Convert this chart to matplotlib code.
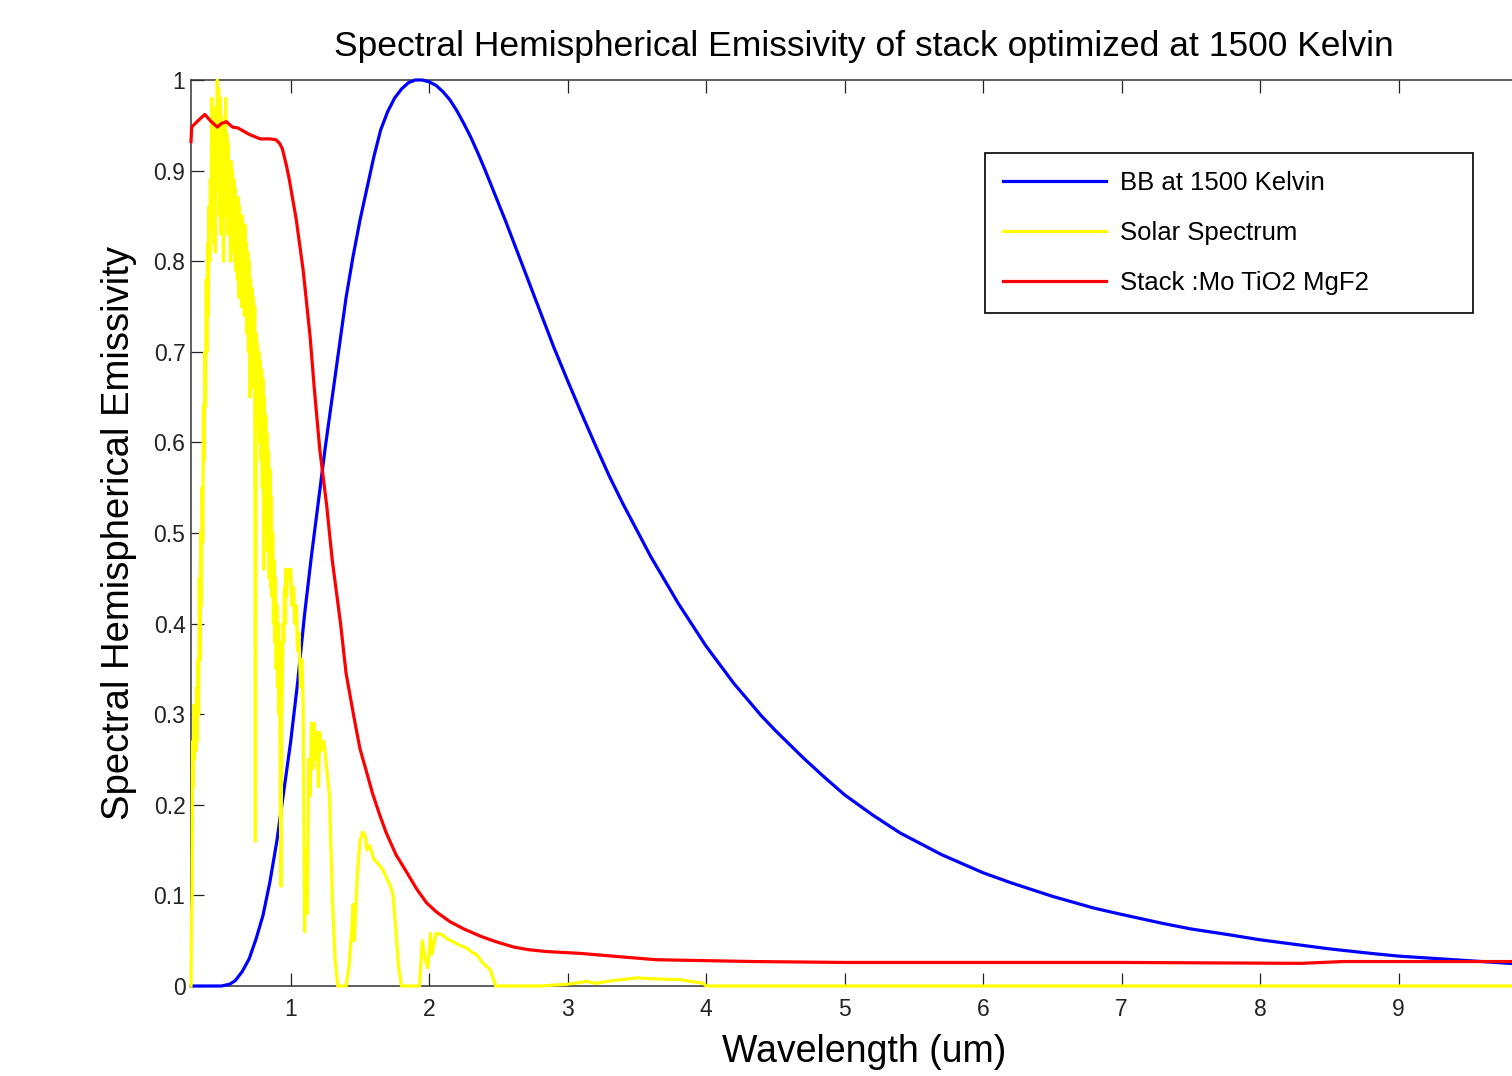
# Spectral hemispherical emissivity chart (stack optimized at 1500 K)
import matplotlib
matplotlib.use('Agg')
import matplotlib.pyplot as plt

# BB at 1500 Kelvin (normalized)
bb_x = [0.28, 0.40, 0.50, 0.56, 0.60, 0.65, 0.70, 0.75, 0.80, 0.85, 0.90, 0.95,
        1.00, 1.05, 1.10, 1.15, 1.20, 1.25, 1.30, 1.35, 1.40, 1.45, 1.50, 1.55,
        1.60, 1.65, 1.70, 1.75, 1.80, 1.85, 1.90, 1.95, 2.00, 2.05, 2.10, 2.15,
        2.20, 2.25, 2.30, 2.35, 2.40, 2.45, 2.50, 2.55, 2.60, 2.70, 2.80, 2.90,
        3.00, 3.10, 3.20, 3.30, 3.40, 3.50, 3.60, 3.80, 4.00, 4.20, 4.40, 4.50,
        4.70, 4.85, 5.00, 5.20, 5.40, 5.70, 6.00, 6.20, 6.50, 6.80, 7.00, 7.30,
        7.50, 7.80, 8.00, 8.30, 8.50, 8.80, 9.00, 9.30, 9.50, 9.80, 10.0]
bb_y = [0.0, 0.0, 0.0, 0.002, 0.006, 0.016, 0.030, 0.052, 0.078, 0.115, 0.16, 0.215,
        0.27, 0.335, 0.41, 0.475, 0.535, 0.595, 0.65, 0.705, 0.76, 0.805, 0.845, 0.88,
        0.915, 0.945, 0.965, 0.98, 0.99, 0.997, 1.0, 1.0, 0.998, 0.994, 0.987, 0.978,
        0.966, 0.952, 0.937, 0.92, 0.902, 0.883, 0.864, 0.845, 0.825, 0.785, 0.745, 0.705,
        0.668, 0.632, 0.597, 0.563, 0.532, 0.503, 0.474, 0.422, 0.375, 0.334, 0.298, 0.282,
        0.252, 0.231, 0.211, 0.189, 0.169, 0.145, 0.125, 0.114, 0.099, 0.086, 0.079, 0.069,
        0.063, 0.056, 0.051, 0.045, 0.041, 0.036, 0.033, 0.030, 0.028, 0.025, 0.024]

# Solar spectrum (normalized)
sun_x = [0.280, 0.284, 0.288, 0.292, 0.296, 0.300, 0.305, 0.310, 0.315, 0.320, 0.325,
         0.330, 0.335, 0.340, 0.345, 0.350, 0.355, 0.360, 0.365, 0.370, 0.375, 0.380,
         0.385, 0.390, 0.395, 0.400, 0.405, 0.410, 0.415, 0.420, 0.425, 0.430, 0.435,
         0.440, 0.445, 0.450, 0.455, 0.460, 0.465, 0.470, 0.475, 0.480, 0.485, 0.490,
         0.495, 0.500, 0.505, 0.510, 0.515, 0.520, 0.525, 0.530, 0.535, 0.540, 0.545,
         0.550, 0.555, 0.560, 0.565, 0.570, 0.575, 0.580, 0.585, 0.590, 0.595, 0.600,
         0.605, 0.610, 0.615, 0.620, 0.625, 0.630, 0.635, 0.640, 0.645, 0.650, 0.655,
         0.660, 0.665, 0.670, 0.675, 0.680, 0.685, 0.690, 0.695, 0.700, 0.705, 0.710,
         0.715, 0.720, 0.725, 0.730, 0.735, 0.740, 0.745, 0.750, 0.755, 0.760, 0.765,
         0.770, 0.775, 0.780, 0.785, 0.790, 0.795, 0.800, 0.805, 0.810, 0.815, 0.820,
         0.825, 0.830, 0.835, 0.840, 0.845, 0.850, 0.855, 0.860, 0.865, 0.870, 0.875,
         0.880, 0.885, 0.890, 0.895, 0.900, 0.905, 0.910, 0.915, 0.920, 0.925, 0.930,
         0.935, 0.940, 0.945, 0.950, 0.955, 0.960, 0.965, 0.970, 0.980, 0.99, 1.00,
         1.01, 1.02, 1.03, 1.04, 1.05, 1.06, 1.07, 1.08, 1.09, 1.10, 1.11, 1.12,
         1.13, 1.14, 1.15, 1.16, 1.17, 1.18, 1.19, 1.20, 1.21, 1.22, 1.24, 1.26,
         1.28, 1.30, 1.32, 1.34, 1.40, 1.42, 1.44, 1.45, 1.46, 1.48, 1.50, 1.52,
         1.54, 1.55, 1.57, 1.60, 1.63, 1.66, 1.69, 1.72, 1.74, 1.76, 1.78, 1.80,
         1.93, 1.95, 1.97, 1.99, 2.01, 2.02, 2.05, 2.09, 2.13, 2.17, 2.22, 2.27,
         2.31, 2.34, 2.39, 2.44, 2.47, 2.48, 2.80, 2.90, 3.00, 3.14, 3.20, 3.33,
         3.50, 3.60, 3.81, 3.98, 4.00, 10.5]
sun_y = [0.0, 0.08, 0.10, 0.27, 0.22, 0.31, 0.25, 0.30, 0.26, 0.33, 0.27,
         0.36, 0.30, 0.45, 0.36, 0.50, 0.42, 0.55, 0.49, 0.64, 0.58, 0.70,
         0.64, 0.78, 0.70, 0.82, 0.74, 0.86, 0.80, 0.89, 0.84, 0.98, 0.86,
         0.95, 0.82, 0.93, 0.81, 0.97, 0.88, 1.0, 0.90, 0.99, 0.85, 0.98,
         0.83, 0.96, 0.86, 0.95, 0.80, 0.94, 0.85, 0.98, 0.87, 0.94, 0.83,
         0.93, 0.84, 0.91, 0.80, 0.91, 0.82, 0.90, 0.81, 0.89, 0.80, 0.88,
         0.79, 0.87, 0.78, 0.87, 0.76, 0.86, 0.79, 0.85, 0.75, 0.85, 0.78,
         0.84, 0.74, 0.84, 0.77, 0.82, 0.72, 0.81, 0.70, 0.80, 0.65, 0.78,
         0.70, 0.77, 0.68, 0.76, 0.66, 0.75, 0.16, 0.72, 0.66, 0.71, 0.62,
         0.70, 0.60, 0.69, 0.58, 0.68, 0.55, 0.67, 0.46, 0.65, 0.52, 0.63,
         0.50, 0.61, 0.48, 0.59, 0.45, 0.57, 0.44, 0.54, 0.43, 0.50, 0.40,
         0.47, 0.38, 0.45, 0.35, 0.42, 0.33, 0.40, 0.30, 0.38, 0.20, 0.11,
         0.30, 0.34, 0.40, 0.38, 0.44, 0.40, 0.46, 0.43, 0.46, 0.45, 0.46,
         0.42, 0.44, 0.40, 0.42, 0.37, 0.39, 0.33, 0.36, 0.31, 0.06, 0.15, 0.08,
         0.25, 0.21, 0.29, 0.24, 0.29, 0.25, 0.28, 0.22, 0.28, 0.26, 0.27, 0.24,
         0.21, 0.10, 0.03, 0.0, 0.0, 0.02, 0.06, 0.09, 0.05, 0.12, 0.16, 0.17,
         0.165, 0.15, 0.155, 0.14, 0.135, 0.13, 0.12, 0.11, 0.10, 0.06, 0.02, 0.0,
         0.0, 0.05, 0.03, 0.02, 0.058, 0.035, 0.058, 0.057, 0.052, 0.049, 0.045, 0.042,
         0.037, 0.035, 0.025, 0.018, 0.005, 0.0, 0.0, 0.001, 0.002, 0.005, 0.003, 0.006,
         0.009, 0.008, 0.007, 0.003, 0.0, 0.0]

# Stack :Mo TiO2 MgF2 emissivity
stack_x = [0.28, 0.285, 0.33, 0.38, 0.42, 0.47, 0.50, 0.535, 0.58, 0.62, 0.70, 0.78,
           0.85, 0.894, 0.92, 0.94, 0.97, 0.99, 1.04, 1.09, 1.14, 1.17, 1.21, 1.26,
           1.30, 1.36, 1.40, 1.46, 1.50, 1.55, 1.59, 1.64, 1.69, 1.76, 1.84, 1.91,
           1.98, 2.05, 2.15, 2.25, 2.37, 2.48, 2.61, 2.72, 2.85, 3.09, 3.40, 3.64,
           4.34, 5.0, 6.0, 7.0, 8.3, 8.6, 9.0, 10.0]
stack_y = [0.932, 0.948, 0.955, 0.962, 0.955, 0.948, 0.952, 0.954, 0.948, 0.947, 0.940, 0.935,
           0.935, 0.934, 0.930, 0.924, 0.905, 0.89, 0.846, 0.79, 0.717, 0.66, 0.592, 0.53,
           0.47, 0.40, 0.345, 0.294, 0.262, 0.235, 0.213, 0.19, 0.169, 0.145, 0.125, 0.107,
           0.092, 0.082, 0.071, 0.063, 0.055, 0.049, 0.043, 0.040, 0.038, 0.036, 0.032, 0.029,
           0.027, 0.026, 0.026, 0.026, 0.025, 0.027, 0.027, 0.027]

yticks = [0, 0.1, 0.2, 0.3, 0.4, 0.5, 0.6, 0.7, 0.8, 0.9, 1]
ytick_labels = ['0', '0.1', '0.2', '0.3', '0.4', '0.5', '0.6', '0.7', '0.8', '0.9', '1']
xticks = [1, 2, 3, 4, 5, 6, 7, 8, 9]

plt.rcParams['font.family'] = ['Liberation Sans', 'DejaVu Sans']

fig = plt.figure(figsize=(15.12, 10.76), dpi=100)
# axes run past the right edge like the cropped original
ax = fig.add_axes([191 / 1512, 90 / 1076, 1346 / 1512, 906 / 1076])

lw = 2.3
ax.plot(bb_x, bb_y, color='#0000ff', lw=lw, label='BB at 1500 Kelvin', zorder=3, clip_on=False)
ax.plot(sun_x, sun_y, color='#ffff00', lw=lw, label='Solar Spectrum', zorder=3, clip_on=False)
ax.plot(stack_x, stack_y, color='#ff0000', lw=lw, label='Stack :Mo TiO2 MgF2', zorder=3, clip_on=False)

ax.set_xlim(0.28, 10)
ax.set_ylim(0, 1)
ax.set_xticks(xticks)
ax.set_yticks(yticks)
ax.set_yticklabels(ytick_labels)
ax.tick_params(direction='in', length=9.5, width=0.9, top=True, right=True,
               labelsize=16.5, colors='#222222', pad=4)
ax.tick_params(axis='x', pad=9)
for s in ax.spines.values():
    s.set_color('#333333')
    s.set_linewidth(1.1)

ax.set_xlabel('Wavelength (um)', fontsize=27, labelpad=9)
ax.set_ylabel('Spectral Hemispherical Emissivity', fontsize=27.5, labelpad=12)
ax.set_title('Spectral Hemispherical Emissivity of stack optimized at 1500 Kelvin',
             fontsize=25.5, pad=17)

leg = ax.legend(loc='upper left',
                bbox_to_anchor=(985 / 1512, 1 - 153 / 1076, 488 / 1512, 0.0),
                bbox_transform=fig.transFigure, mode='expand', borderaxespad=0,
                fontsize=18.5, handlelength=4.0, handletextpad=0.55, labelspacing=1.02,
                borderpad=0.7, fancybox=False, framealpha=1, edgecolor='black')
leg.get_frame().set_linewidth(1.2)

fig.savefig('out.png', dpi=100)
